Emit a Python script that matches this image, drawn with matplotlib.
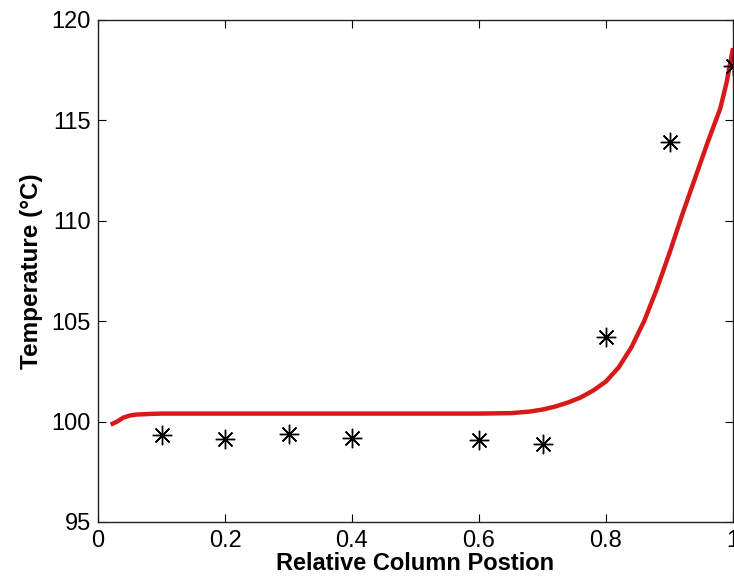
import matplotlib
matplotlib.use('Agg')
import matplotlib.pyplot as plt

# measured points (asterisks)
meas_x = [0.1, 0.2, 0.3, 0.4, 0.6, 0.7, 0.8, 0.9, 1.0]
meas_t = [99.35, 99.15, 99.4, 99.2, 99.1, 98.9, 104.2, 113.9, 117.7]

# model profile (red line)
model_x = [0.02, 0.03, 0.04, 0.05, 0.06, 0.08, 0.1, 0.2, 0.3, 0.4, 0.5, 0.6,
           0.65, 0.68, 0.7, 0.72, 0.74, 0.76, 0.78, 0.8, 0.82, 0.84, 0.86,
           0.88, 0.9, 0.92, 0.94, 0.96, 0.98, 0.99, 1.0]
model_t = [99.85, 100.0, 100.2, 100.3, 100.35, 100.38, 100.4, 100.4, 100.4,
           100.4, 100.4, 100.4, 100.42, 100.5, 100.6, 100.75, 100.95, 101.2,
           101.55, 102.0, 102.7, 103.7, 105.0, 106.6, 108.4, 110.3, 112.1,
           113.9, 115.6, 116.9, 118.6]

xticks = [0, 0.2, 0.4, 0.6, 0.8, 1]
xticklabels = ['0', '0.2', '0.4', '0.6', '0.8', '1']
yticks = [95, 100, 105, 110, 115, 120]

plt.rcParams['font.family'] = ['Liberation Sans', 'DejaVu Sans']

fig = plt.figure(figsize=(7.34, 5.8), dpi=100)
ax = fig.add_axes([98/734, 58/580, 635/734, 502/580])

ax.plot(model_x, model_t, color='#d61a1a', linewidth=3.2, solid_capstyle='butt')
ax.plot(meas_x, meas_t, linestyle='none', marker=(8, 2, 0), markersize=14,
        markeredgewidth=1.0, color='black')

ax.set_xlim(0, 1)
ax.set_ylim(95, 120)
ax.set_xticks(xticks)
ax.set_xticklabels(xticklabels)
ax.set_yticks(yticks)
ax.tick_params(direction='in', length=6, width=0.8, top=True, right=True,
               labelsize=17)
ax.tick_params(axis='x', pad=6)
ax.tick_params(axis='y', pad=5)
for s in ax.spines.values():
    s.set_linewidth(1.0)
    s.set_color('#222222')

ax.set_xlabel('Relative Column Postion', fontsize=17, fontweight='bold', labelpad=0)
ax.set_ylabel('Temperature (°C)', fontsize=17.5, fontweight='bold', labelpad=6)

fig.savefig('out.png', dpi=100)
